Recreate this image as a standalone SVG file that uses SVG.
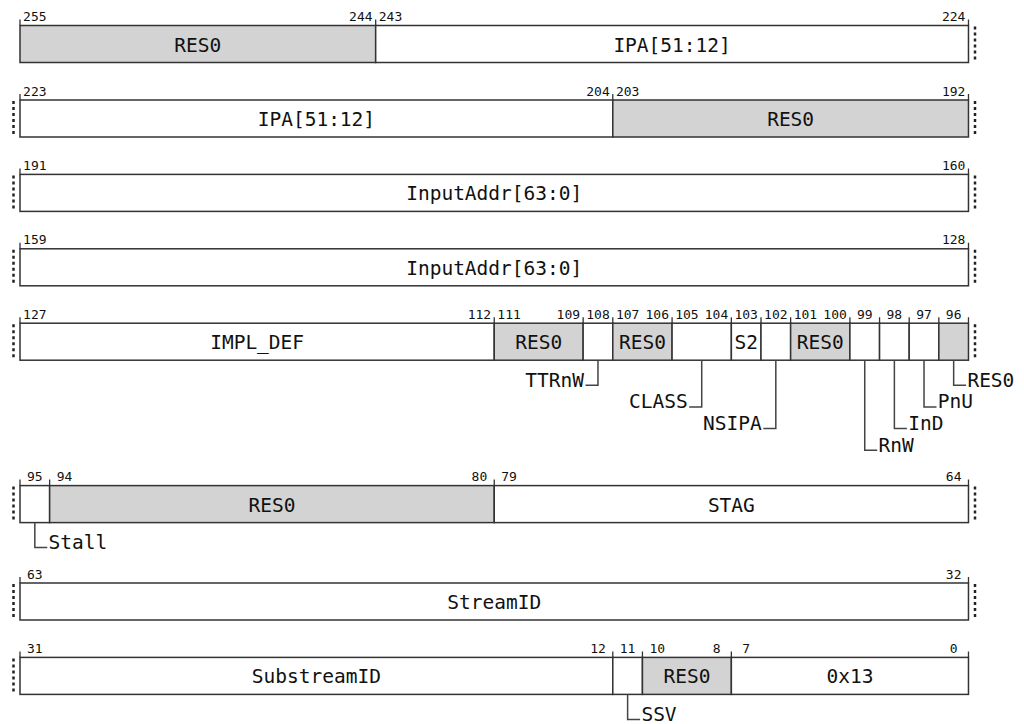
<svg xmlns="http://www.w3.org/2000/svg" width="1024" height="724" viewBox="0 0 1024 724">
<style>
.f{fill:#fff;stroke:#333;stroke-width:1.5}
.g{fill:#d3d3d3;stroke:#333;stroke-width:1.5}
.t{stroke:#333;stroke-width:1.3;fill:none}
.d{stroke:#222;stroke-width:2.5;stroke-dasharray:3 3;fill:none}
.n{font-family:"DejaVu Sans Mono",monospace;font-size:13px;fill:#111;text-anchor:middle}
.l{font-family:"DejaVu Sans Mono",monospace;font-size:19.5px;fill:#111;text-anchor:middle}
.c{stroke:#444;stroke-width:1.5;fill:none}
.ls{font-family:"DejaVu Sans Mono",monospace;font-size:19.5px;fill:#111;text-anchor:start}
.le{font-family:"DejaVu Sans Mono",monospace;font-size:19.5px;fill:#111;text-anchor:end}
</style>
<rect width="1024" height="724" fill="#fff"/>

<g id="row1">
<rect class="g" x="20" y="25.5" width="355.68" height="37"/>
<rect class="f" x="375.68" y="25.5" width="592.8" height="37"/>
<path class="t" d="M20,19.5V25.5M375.68,19.5V25.5M968.48,19.5V25.5"/>
<path class="d" d="M975,26.5V61.5"/>
<text class="n" x="34.82" y="21">255</text>
<text class="n" x="360.86" y="21">244</text>
<text class="n" x="390.5" y="21">243</text>
<text class="n" x="953.66" y="21">224</text>
<text class="l" x="197.84" y="51.5">RES0</text>
<text class="l" x="672.08" y="51.5">IPA[51:12]</text>
</g>

<g id="row2">
<rect class="f" x="20" y="100" width="592.8" height="37"/>
<rect class="g" x="612.8" y="100" width="355.68" height="37"/>
<path class="t" d="M20,94V100M612.8,94V100M968.48,94V100"/>
<path class="d" d="M13.5,101V136M975,101V136"/>
<text class="n" x="34.82" y="95.5">223</text>
<text class="n" x="597.98" y="95.5">204</text>
<text class="n" x="627.62" y="95.5">203</text>
<text class="n" x="953.66" y="95.5">192</text>
<text class="l" x="316.4" y="126">IPA[51:12]</text>
<text class="l" x="790.64" y="126">RES0</text>
</g>

<g id="row3">
<rect class="f" x="20" y="174.4" width="948.48" height="37"/>
<path class="t" d="M20,168.4V174.4M968.48,168.4V174.4"/>
<path class="d" d="M13.5,175.4V210.4M975,175.4V210.4"/>
<text class="n" x="34.82" y="169.9">191</text>
<text class="n" x="953.66" y="169.9">160</text>
<text class="l" x="494.24" y="200.4">InputAddr[63:0]</text>
</g>

<g id="row4">
<rect class="f" x="20" y="248.8" width="948.48" height="37"/>
<path class="t" d="M20,242.8V248.8M968.48,242.8V248.8"/>
<path class="d" d="M13.5,249.8V284.8M975,249.8V284.8"/>
<text class="n" x="34.82" y="244.3">159</text>
<text class="n" x="953.66" y="244.3">128</text>
<text class="l" x="494.24" y="274.8">InputAddr[63:0]</text>
</g>

<g id="row5">
<rect class="f" x="20" y="323.2" width="474.24" height="37"/>
<rect class="g" x="494.24" y="323.2" width="88.92" height="37"/>
<rect class="f" x="583.16" y="323.2" width="29.64" height="37"/>
<rect class="g" x="612.8" y="323.2" width="59.28" height="37"/>
<rect class="f" x="672.08" y="323.2" width="59.28" height="37"/>
<rect class="f" x="731.36" y="323.2" width="29.64" height="37"/>
<rect class="f" x="761" y="323.2" width="29.64" height="37"/>
<rect class="g" x="790.64" y="323.2" width="59.28" height="37"/>
<rect class="f" x="849.92" y="323.2" width="29.64" height="37"/>
<rect class="f" x="879.56" y="323.2" width="29.64" height="37"/>
<rect class="f" x="909.2" y="323.2" width="29.64" height="37"/>
<rect class="g" x="938.84" y="323.2" width="29.64" height="37"/>
<path class="t" d="M20,317.2V323.2M494.24,317.2V323.2M583.16,317.2V323.2M612.8,317.2V323.2M672.08,317.2V323.2M731.36,317.2V323.2M761,317.2V323.2M790.64,317.2V323.2M849.92,317.2V323.2M879.56,317.2V323.2M909.2,317.2V323.2M938.84,317.2V323.2M968.48,317.2V323.2"/>
<path class="d" d="M13.5,324.2V359.2M975,324.2V359.2"/>
<text class="n" x="34.82" y="318.7">127</text>
<text class="n" x="479.42" y="318.7">112</text>
<text class="n" x="509.06" y="318.7">111</text>
<text class="n" x="568.34" y="318.7">109</text>
<text class="n" x="597.98" y="318.7">108</text>
<text class="n" x="627.62" y="318.7">107</text>
<text class="n" x="657.26" y="318.7">106</text>
<text class="n" x="686.9" y="318.7">105</text>
<text class="n" x="716.54" y="318.7">104</text>
<text class="n" x="746.18" y="318.7">103</text>
<text class="n" x="775.82" y="318.7">102</text>
<text class="n" x="805.46" y="318.7">101</text>
<text class="n" x="835.1" y="318.7">100</text>
<text class="n" x="864.74" y="318.7">99</text>
<text class="n" x="894.38" y="318.7">98</text>
<text class="n" x="924.02" y="318.7">97</text>
<text class="n" x="953.66" y="318.7">96</text>
<text class="l" x="257.12" y="349.2">IMPL_DEF</text>
<text class="l" x="538.7" y="349.2">RES0</text>
<text class="l" x="642.44" y="349.2">RES0</text>
<text class="l" x="746.18" y="349.2">S2</text>
<text class="l" x="820.28" y="349.2">RES0</text>
</g>

<g id="row6">
<rect class="f" x="20" y="485.6" width="29.64" height="37"/>
<rect class="g" x="49.64" y="485.6" width="444.6" height="37"/>
<rect class="f" x="494.24" y="485.6" width="474.24" height="37"/>
<path class="t" d="M20,479.6V485.6M49.64,479.6V485.6M494.24,479.6V485.6M968.48,479.6V485.6"/>
<path class="d" d="M13.5,486.6V521.6M975,486.6V521.6"/>
<text class="n" x="34.82" y="481.1">95</text>
<text class="n" x="64.46" y="481.1">94</text>
<text class="n" x="479.42" y="481.1">80</text>
<text class="n" x="509.06" y="481.1">79</text>
<text class="n" x="953.66" y="481.1">64</text>
<text class="l" x="271.94" y="511.6">RES0</text>
<text class="l" x="731.36" y="511.6">STAG</text>
</g>

<g id="row7">
<rect class="f" x="20" y="583" width="948.48" height="37"/>
<path class="t" d="M20,577V583M968.48,577V583"/>
<path class="d" d="M13.5,584V619M975,584V619"/>
<text class="n" x="34.82" y="578.5">63</text>
<text class="n" x="953.66" y="578.5">32</text>
<text class="l" x="494.24" y="609">StreamID</text>
</g>

<g id="row8">
<rect class="f" x="20" y="657.4" width="592.8" height="37"/>
<rect class="f" x="612.8" y="657.4" width="29.64" height="37"/>
<rect class="g" x="642.44" y="657.4" width="88.92" height="37"/>
<rect class="f" x="731.36" y="657.4" width="237.12" height="37"/>
<path class="t" d="M20,651.4V657.4M612.8,651.4V657.4M642.44,651.4V657.4M731.36,651.4V657.4M968.48,651.4V657.4"/>
<path class="d" d="M13.5,658.4V693.4"/>
<text class="n" x="34.82" y="652.9">31</text>
<text class="n" x="597.98" y="652.9">12</text>
<text class="n" x="627.62" y="652.9">11</text>
<text class="n" x="657.26" y="652.9">10</text>
<text class="n" x="716.54" y="652.9">8</text>
<text class="n" x="746.18" y="652.9">7</text>
<text class="n" x="953.66" y="652.9">0</text>
<text class="l" x="316.4" y="683.4">SubstreamID</text>
<text class="l" x="686.9" y="683.4">RES0</text>
<text class="l" x="849.92" y="683.4">0x13</text>
</g>

<g id="connectors">
<path class="c" d="M597.98,360.2V385.2H585.5"/>
<path class="c" d="M701.72,360.2V406.9H689.2"/>
<path class="c" d="M775.82,360.2V428.5H763.3"/>
<path class="c" d="M864.74,360.2V450.2H877.2"/>
<path class="c" d="M894.38,360.2V428.5H906.9"/>
<path class="c" d="M924.02,360.2V406.9H936.5"/>
<path class="c" d="M953.66,360.2V385.2H966.1"/>
<path class="c" d="M34.82,522.6V547.6H47.3"/>
<path class="c" d="M627.62,694.4V719.4H640.1"/>
</g>

<g id="labels">
<text class="le" x="584" y="386.7">TTRnW</text>
<text class="le" x="687.7" y="408.4">CLASS</text>
<text class="le" x="761.8" y="430">NSIPA</text>
<text class="ls" x="878.5" y="451.7">RnW</text>
<text class="ls" x="908.2" y="430">InD</text>
<text class="ls" x="937.8" y="408.4">PnU</text>
<text class="ls" x="967.4" y="386.7">RES0</text>
<text class="ls" x="48.6" y="549.1">Stall</text>
<text class="ls" x="641.4" y="720.9">SSV</text>
</g>
</svg>
